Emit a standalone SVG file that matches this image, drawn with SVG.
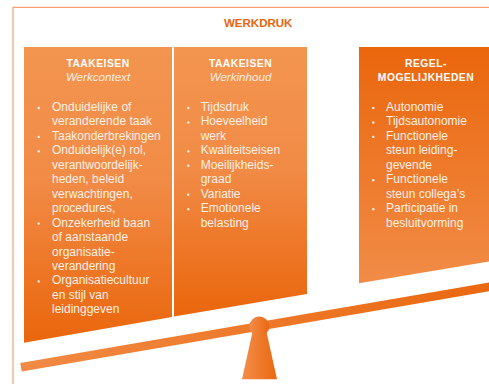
<svg xmlns="http://www.w3.org/2000/svg" width="489" height="386" viewBox="0 0 489 386">
  <defs>
    <linearGradient id="gDown" x1="0" y1="0" x2="0" y2="1">
      <stop offset="0" stop-color="#f3954f"/>
      <stop offset="0.45" stop-color="#f18b46"/>
      <stop offset="1" stop-color="#ea660c"/>
    </linearGradient>
    <linearGradient id="gUp" x1="0" y1="0" x2="0" y2="1">
      <stop offset="0" stop-color="#ea660c"/>
      <stop offset="1" stop-color="#f18c47"/>
    </linearGradient>
    <linearGradient id="gBeam" gradientUnits="userSpaceOnUse" x1="21" y1="0" x2="489" y2="0">
      <stop offset="0" stop-color="#f18a44"/>
      <stop offset="1" stop-color="#ea6810"/>
    </linearGradient>
    <linearGradient id="gSide" x1="0" y1="0" x2="1" y2="0">
      <stop offset="0" stop-color="#f28d4a"/>
      <stop offset="1" stop-color="#ea6810"/>
    </linearGradient>
    <style>
      .frame { fill: none; stroke: #f4a272; stroke-width: 1.2; }
      .main { font-family: "Liberation Sans", Arial, sans-serif; font-weight: bold; font-size: 11.5px; fill: #e8650c; }
      .title { font-family: "Liberation Sans", Arial, sans-serif; font-weight: bold; font-size: 10.3px; letter-spacing: 0.5px; fill: #ffffff; text-anchor: middle; }
      .sub { font-family: "Liberation Sans", Arial, sans-serif; font-style: italic; font-size: 11.6px; fill: #fdeee3; text-anchor: middle; }
      .body { font-family: "Liberation Sans", Arial, sans-serif; font-size: 12px; fill: #fdf0e6; }
      .dot { fill: #fdf0e6; }
    </style>
  </defs>

  <g id="frame">
    <polyline class="frame" points="13,384 13,7.3 489,7.3"/>
    <text class="main" x="258.2" y="27.3" text-anchor="middle">WERKDRUK</text>
  </g>

  <g id="box-werkcontext">
    <polygon points="24,47 172,47 172,317 24,342.7" fill="url(#gDown)"/>
    <text class="title" x="98" y="67.3">TAAKEISEN</text>
    <text class="sub" x="98" y="81.3">Werkcontext</text>
    <g class="dot">
      <circle cx="38.7" cy="108" r="1.2"/>
      <circle cx="38.7" cy="136.9" r="1.2"/>
      <circle cx="38.7" cy="151.35" r="1.2"/>
      <circle cx="38.7" cy="223.6" r="1.2"/>
      <circle cx="38.7" cy="281.4" r="1.2"/>
    </g>
    <text class="body" x="52" y="111">
      <tspan x="52" y="111">Onduidelijke of</tspan>
      <tspan x="52" y="125.45">veranderende taak</tspan>
      <tspan x="52" y="139.9">Taakonderbrekingen</tspan>
      <tspan x="52" y="154.35">Onduidelijk(e) rol,</tspan>
      <tspan x="52" y="168.8">verantwoordelijk-</tspan>
      <tspan x="52" y="183.25">heden, beleid</tspan>
      <tspan x="52" y="197.7">verwachtingen,</tspan>
      <tspan x="52" y="212.15">procedures,</tspan>
      <tspan x="52" y="226.6">Onzekerheid baan</tspan>
      <tspan x="52" y="241.05">of aanstaande</tspan>
      <tspan x="52" y="255.5">organisatie-</tspan>
      <tspan x="52" y="269.95">verandering</tspan>
      <tspan x="52" y="284.4">Organisatiecultuur</tspan>
      <tspan x="52" y="298.85">en stijl van</tspan>
      <tspan x="52" y="313.3">leidinggeven</tspan>
    </text>
  </g>

  <g id="box-werkinhoud">
    <polygon points="174,47 307,47 307,294 174,316.6" fill="url(#gDown)"/>
    <text class="title" x="240.5" y="67.3">TAAKEISEN</text>
    <text class="sub" x="240.5" y="81.3">Werkinhoud</text>
    <g class="dot">
      <circle cx="188.3" cy="108" r="1.2"/>
      <circle cx="188.3" cy="122.45" r="1.2"/>
      <circle cx="188.3" cy="151.35" r="1.2"/>
      <circle cx="188.3" cy="165.8" r="1.2"/>
      <circle cx="188.3" cy="194.7" r="1.2"/>
      <circle cx="188.3" cy="209.15" r="1.2"/>
    </g>
    <text class="body" x="200.7" y="111">
      <tspan x="200.7" y="111">Tijdsdruk</tspan>
      <tspan x="200.7" y="125.45">Hoeveelheid</tspan>
      <tspan x="200.7" y="139.9">werk</tspan>
      <tspan x="200.7" y="154.35">Kwaliteitseisen</tspan>
      <tspan x="200.7" y="168.8">Moeilijkheids-</tspan>
      <tspan x="200.7" y="183.25">graad</tspan>
      <tspan x="200.7" y="197.7">Variatie</tspan>
      <tspan x="200.7" y="212.15">Emotionele</tspan>
      <tspan x="200.7" y="226.6">belasting</tspan>
    </text>
  </g>

  <g id="box-regelmogelijkheden">
    <polygon points="359,47 489,47 489,261.5 359,283.3" fill="url(#gUp)"/>
    <text class="title" x="426" y="67.3">REGEL-</text>
    <text class="title" x="426" y="81.3">MOGELIJKHEDEN</text>
    <g class="dot">
      <circle cx="373.3" cy="108" r="1.2"/>
      <circle cx="373.3" cy="122.45" r="1.2"/>
      <circle cx="373.3" cy="136.9" r="1.2"/>
      <circle cx="373.3" cy="180.25" r="1.2"/>
      <circle cx="373.3" cy="209.15" r="1.2"/>
    </g>
    <text class="body" x="386" y="111">
      <tspan x="386" y="111">Autonomie</tspan>
      <tspan x="386" y="125.45">Tijdsautonomie</tspan>
      <tspan x="386" y="139.9">Functionele</tspan>
      <tspan x="386" y="154.35">steun leiding-</tspan>
      <tspan x="386" y="168.8">gevende</tspan>
      <tspan x="386" y="183.25">Functionele</tspan>
      <tspan x="386" y="197.7">steun collega’s</tspan>
      <tspan x="386" y="212.15">Participatie in</tspan>
      <tspan x="386" y="226.6">besluitvorming</tspan>
    </text>
  </g>

  <g id="connectors"/>

  <g id="balance">
    <line x1="21" y1="367.3" x2="495" y2="285.8" stroke="url(#gBeam)" stroke-width="8.6"/>
    <polygon points="252.5,332 266.5,332 277,379.3 242,379.3" fill="url(#gSide)"/>
    <circle cx="259.3" cy="326.5" r="10" fill="url(#gSide)"/>
  </g>
</svg>
